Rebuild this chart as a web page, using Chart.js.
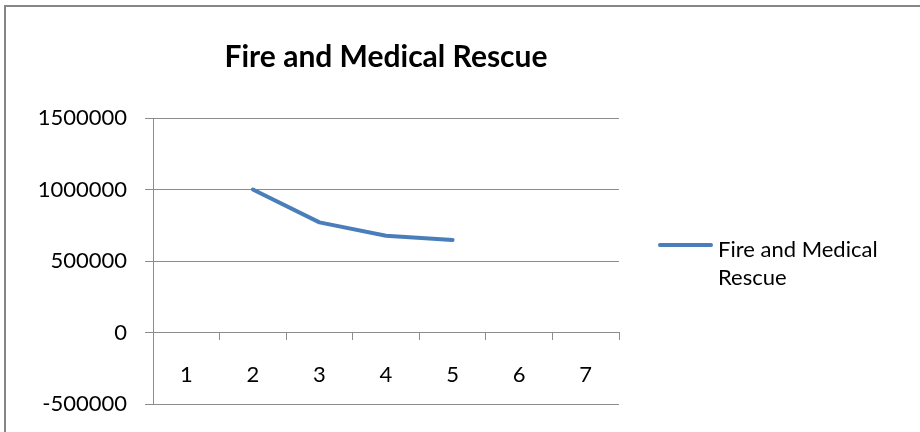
<!DOCTYPE html>
<html>
<head>
<meta charset="utf-8">
<script src="https://cdn.jsdelivr.net/npm/chart.js@4/dist/chart.umd.min.js"></script>
<style>
  html, body { margin: 0; padding: 0; background: #fff; }
  #wrap { position: relative; width: 920px; height: 432px; }
</style>
</head>
<body>
<div id="wrap"><canvas id="c" width="920" height="432"></canvas></div>
<script>
const chartTitle = 'Fire and Medical Rescue';
const categories = ['1', '2', '3', '4', '5', '6', '7'];
const seriesName = 'Fire and Medical Rescue';
const seriesValues = [null, 1000000, 770000, 677000, 647000, null, null];
const yTicks = [-500000, 0, 500000, 1000000, 1500000];

const FONT = 'Lato, "Open Sans", "DejaVu Sans", sans-serif';
const GRID = '#8c8c8c';
const LINE = '#4a7ebb';

const framePlugin = {
  id: 'frame',
  beforeDraw(chart) {
    const ctx = chart.ctx;
    ctx.save();
    ctx.fillStyle = '#fff';
    ctx.fillRect(0, 0, chart.width, chart.height);
    ctx.strokeStyle = '#868686';
    ctx.lineWidth = 2;
    ctx.strokeRect(5, 6, chart.width + 20, chart.height + 20);
    ctx.restore();
  }
};

const legendPlugin = {
  id: 'sideLegend',
  afterDraw(chart) {
    const ctx = chart.ctx;
    const area = chart.chartArea;
    const ds = chart.data.datasets[0];
    const x0 = area.right + 39;
    const yLine = 245;
    ctx.save();
    ctx.strokeStyle = ds.borderColor;
    ctx.lineWidth = 4;
    ctx.lineCap = 'round';
    ctx.beginPath();
    ctx.moveTo(x0 + 2, yLine);
    ctx.lineTo(x0 + 53, yLine);
    ctx.stroke();
    ctx.font = '22px ' + FONT;
    ctx.fillStyle = '#000';
    ctx.textBaseline = 'alphabetic';
    ctx.textAlign = 'left';
    const words = ds.label.split(' ');
    const maxW = 190;
    const lines = [];
    let cur = '';
    for (const w of words) {
      const t = cur ? cur + ' ' + w : w;
      if (ctx.measureText(t).width > maxW && cur) { lines.push(cur); cur = w; }
      else cur = t;
    }
    if (cur) lines.push(cur);
    lines.forEach((ln, i) => ctx.fillText(ln, x0 + 60, 257 + i * 28));
    ctx.restore();
  }
};

new Chart(document.getElementById('c'), {
  type: 'line',
  data: {
    labels: categories,
    datasets: [{
      label: seriesName,
      data: seriesValues,
      borderColor: LINE,
      backgroundColor: LINE,
      borderWidth: 4,
      borderCapStyle: 'round',
      borderJoinStyle: 'round',
      pointRadius: 0,
      pointHoverRadius: 0,
      tension: 0,
      fill: false
    }]
  },
  options: {
    responsive: false,
    animation: false,
    devicePixelRatio: 1,
    layout: { padding: { top: 10, left: 0, right: 301, bottom: 28 } },
    plugins: {
      legend: { display: false },
      tooltip: { enabled: false },
      title: {
        display: true,
        text: chartTitle,
        fullSize: false,
        color: '#000',
        font: { family: FONT, size: 30, weight: 'bold', lineHeight: 1.2 },
        padding: { top: 29, bottom: 43 }
      }
    },
    scales: {
      x: {
        type: 'category',
        position: { y: 0 },
        offset: true,
        afterFit(scale) { scale.height = 0; },
        grid: {
          offset: true,
          drawOnChartArea: false,
          drawTicks: true,
          tickLength: 7,
          color: GRID,
          tickColor: GRID
        },
        border: { display: true, color: GRID, width: 1 },
        ticks: {
          color: '#000',
          padding: 22,
          maxRotation: 0,
          font: { family: FONT, size: 22 }
        }
      },
      y: {
        min: -500000,
        max: 1500000,
        afterFit(scale) { scale.width = 153; scale.paddingBottom = 0; scale.paddingTop = 0; },
        afterBuildTicks(scale) { scale.ticks = yTicks.map(v => ({ value: v })); },
        grid: {
          color: GRID,
          tickColor: GRID,
          tickLength: 8,
          drawTicks: true
        },
        border: { display: true, color: GRID, width: 1 },
        ticks: {
          color: '#000',
          padding: 18,
          font: { family: FONT, size: 22 },
          callback: (v) => String(v)
        }
      }
    }
  },
  plugins: [framePlugin, legendPlugin]
});
</script>
</body>
</html>
